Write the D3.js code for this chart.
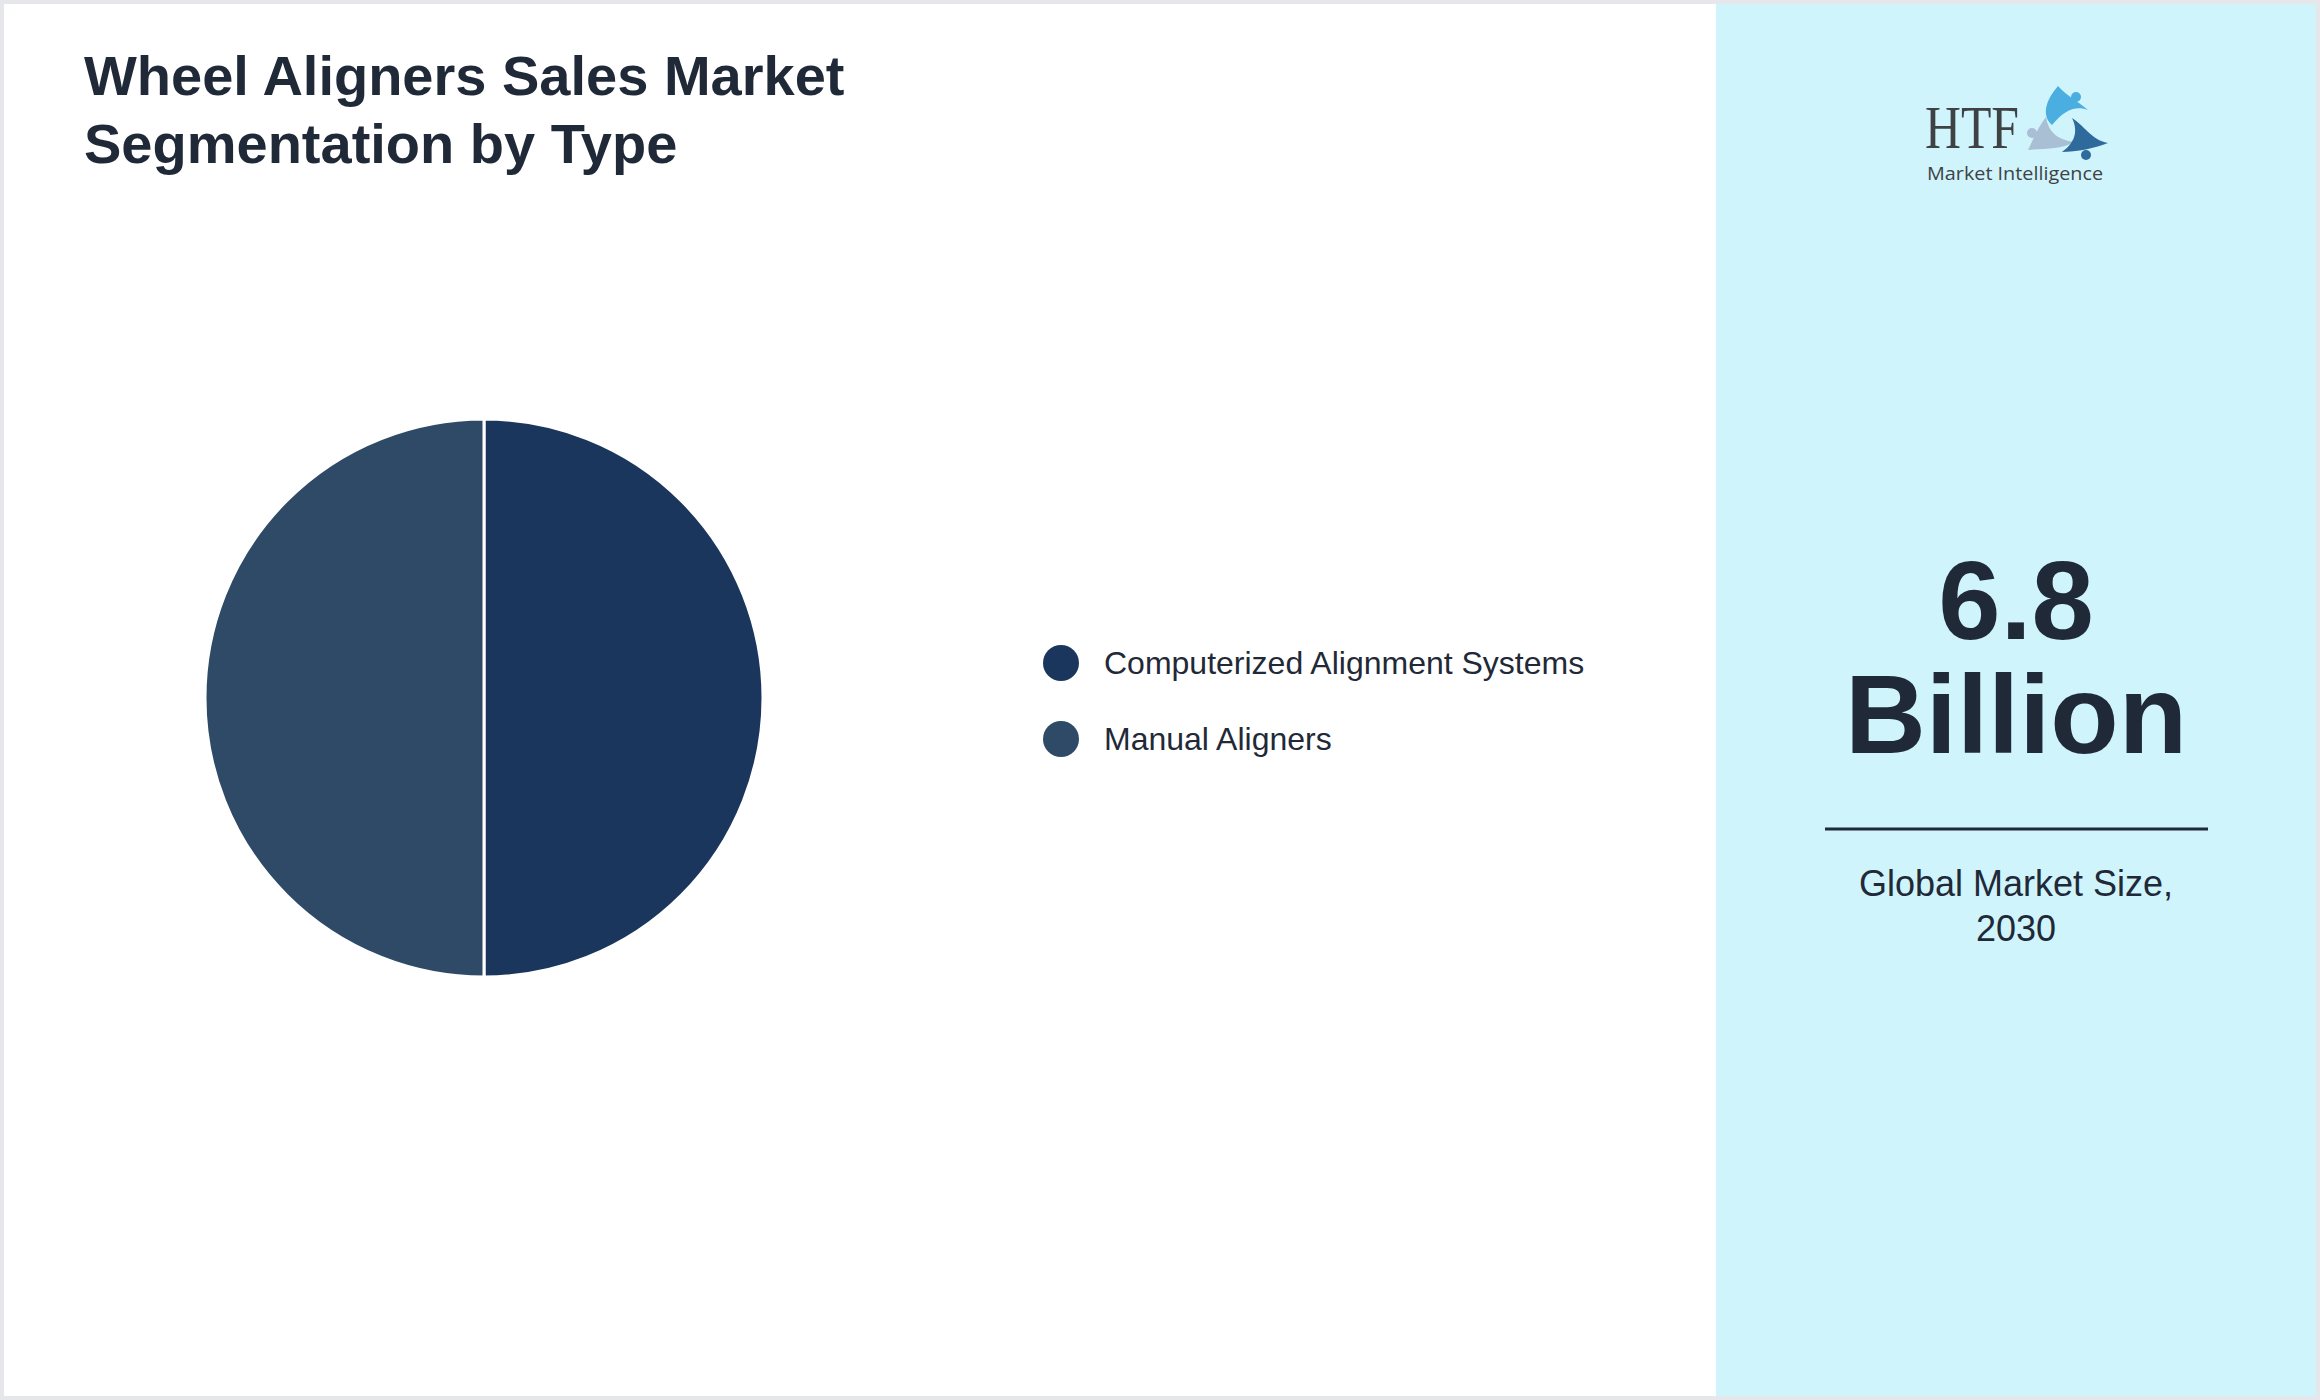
<!DOCTYPE html>
<html>
<head>
<meta charset="utf-8">
<script src="https://cdn.jsdelivr.net/npm/d3@7"></script>
<style>
  body { margin: 0; background: #fff; }
  svg { display: block; font-family: "Liberation Sans", Arial, sans-serif; }
</style>
</head>
<body>
<svg id="chart" width="2320" height="1400"></svg>
<script>
  // data
  var categories = ["Computerized Alignment Systems", "Manual Aligners"];
  var shares = [50, 50];
  var colors = ["#1b365d", "#2e4a66"];
  var titleLines = ["Wheel Aligners Sales Market", "Segmentation by Type"];
  var bigValue = ["6.8", "Billion"];
  var caption = ["Global Market Size,", "2030"];

  var svg = d3.select("#chart");
  var ink = "#1f2937";

  svg.append("rect").attr("x", 2).attr("y", 2).attr("width", 2316).attr("height", 1396)
    .attr("fill", "#fff").attr("stroke", "#e5e7eb").attr("stroke-width", 4);
  svg.append("rect").attr("x", 1716).attr("y", 4).attr("width", 600).attr("height", 1392)
    .attr("fill", "#cff4fc");

  svg.selectAll("text.title").data(titleLines).enter().append("text")
    .attr("class", "title")
    .attr("x", 84).attr("y", function(d, i){ return 95 + i * 68; })
    .attr("fill", ink).attr("font-size", 56).attr("font-weight", "bold")
    .text(function(d){ return d; });

  // pie
  var pie = d3.pie().sort(null).value(function(d){ return d; });
  var arc = d3.arc().innerRadius(0).outerRadius(279);
  var g = svg.append("g").attr("transform", "translate(484,698)");
  g.selectAll("path").data(pie(shares)).enter().append("path")
    .attr("d", arc)
    .attr("fill", function(d, i){ return colors[i]; })
    .attr("stroke", "#fff").attr("stroke-width", 3);

  // legend
  var lg = svg.selectAll("g.leg").data(categories).enter().append("g")
    .attr("class", "leg")
    .attr("transform", function(d, i){ return "translate(1061," + (663 + i * 76) + ")"; });
  lg.append("circle").attr("r", 18).attr("fill", function(d, i){ return colors[i]; });
  lg.append("text").attr("x", 43).attr("y", 11).attr("font-size", 32).attr("fill", ink)
    .text(function(d){ return d; });

  // right panel
  svg.selectAll("text.big").data(bigValue).enter().append("text")
    .attr("class", "big").attr("text-anchor", "middle")
    .attr("x", 2016).attr("y", function(d, i){ return 639 + i * 114; })
    .attr("font-size", 112).attr("font-weight", "bold").attr("fill", ink)
    .text(function(d){ return d; });
  svg.append("line").attr("x1", 1825).attr("x2", 2208).attr("y1", 829).attr("y2", 829)
    .attr("stroke", ink).attr("stroke-width", 3);
  svg.selectAll("text.cap").data(caption).enter().append("text")
    .attr("class", "cap").attr("text-anchor", "middle")
    .attr("x", 2016).attr("y", function(d, i){ return 896 + i * 45; })
    .attr("font-size", 36).attr("fill", ink)
    .text(function(d){ return d; });

  // logo
  var logo = svg.append("g");
  logo.append("text").attr("fill", "#3f4245").attr("x", 1925).attr("y", 148)
    .attr("font-family", "Liberation Serif, serif").attr("font-size", 62)
    .attr("textLength", 94).attr("lengthAdjust", "spacingAndGlyphs")
    .text("HTF");
  logo.append("text").attr("fill", "#3f4245").attr("x", 1927).attr("y", 180)
    .attr("font-family", "Open Sans, sans-serif").attr("font-size", 19)
    .attr("textLength", 176).attr("lengthAdjust", "spacingAndGlyphs")
    .text("Market Intelligence");
  var icon = logo.append("g").attr("transform", "translate(6,0)");
  icon.append("path").attr("d", "M2052,86 C2040,100 2035,115 2046,125 C2058,110 2070,105 2082,110 C2070,100 2060,95 2052,86Z")
    .attr("fill", "#4aafe0");
  icon.append("circle").attr("cx", 2070).attr("cy", 97).attr("r", 5).attr("fill", "#4aafe0");
  icon.append("path").attr("d", "M2040,117 C2030,130 2025,145 2022,150 C2040,148 2055,150 2068,142 C2052,140 2042,132 2040,117Z")
    .attr("fill", "#a9bfd4");
  icon.append("circle").attr("cx", 2026).attr("cy", 133).attr("r", 5).attr("fill", "#a9bfd4");
  icon.append("path").attr("d", "M2066,118 C2078,125 2085,140 2102,143 C2090,148 2070,152 2056,152 C2070,142 2072,130 2066,118Z")
    .attr("fill", "#2f6a9c");
  icon.append("circle").attr("cx", 2080).attr("cy", 155).attr("r", 5).attr("fill", "#2f6a9c");
</script>
</body>
</html>
